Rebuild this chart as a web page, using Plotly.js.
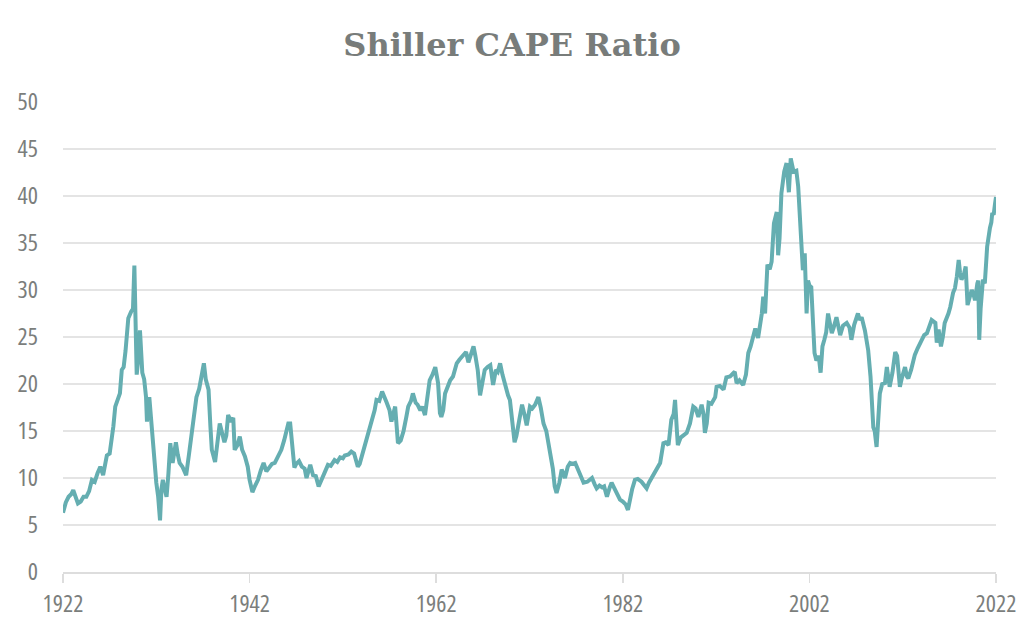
<!DOCTYPE html>
<html>
<head>
<meta charset="utf-8">
<script src="https://cdn.plot.ly/plotly-3.0.1.min.js"></script>
<style>
  html, body { margin: 0; padding: 0; background: #fff; }
  #chart { width: 1024px; height: 639px; }
  /* narrow tick labels like the original */
  #chart .xtick text, #chart .ytick text { font-stretch: 75% !important; }
</style>
</head>
<body>
<div id="chart"></div>
<script>
// Shiller CAPE (decimal years)
const years = [
  1922.0, 1922.3, 1922.6, 1922.9, 1923.1, 1923.4, 1923.6, 1923.9, 1924.2, 1924.5, 1924.8,
  1925.1, 1925.4, 1925.7, 1926.0, 1926.3, 1926.5, 1926.7, 1927.0, 1927.2, 1927.4, 1927.6,
  1927.9, 1928.1, 1928.3, 1928.5, 1928.7, 1928.85, 1929.0, 1929.3, 1929.5, 1929.65, 1929.75,
  1929.9, 1930.05, 1930.25, 1930.5, 1930.7, 1930.9, 1931.0, 1931.25, 1931.5, 1931.7, 1931.85,
  1932.0, 1932.2, 1932.4, 1932.55, 1932.7, 1932.9, 1933.1, 1933.3, 1933.5, 1933.75, 1933.9,
  1934.1, 1934.3, 1934.5, 1934.8, 1935.2, 1935.5, 1935.8, 1936.1, 1936.3, 1936.6, 1936.9,
  1937.1, 1937.3, 1937.6, 1937.8, 1937.95, 1938.3, 1938.5, 1938.8, 1939.0, 1939.3, 1939.5,
  1939.7, 1940.0, 1940.25, 1940.4, 1940.7, 1940.95, 1941.2, 1941.5, 1941.8, 1942.0, 1942.3,
  1942.6, 1942.9, 1943.2, 1943.5, 1943.8, 1944.1, 1944.4, 1944.7, 1945.0, 1945.4, 1945.7,
  1946.0, 1946.15, 1946.35, 1946.6, 1946.8, 1947.0, 1947.3, 1947.6, 1947.9, 1948.1, 1948.5,
  1948.8, 1949.1, 1949.4, 1949.7, 1950.0, 1950.4, 1950.7, 1951.1, 1951.4, 1951.7, 1952.0,
  1952.2, 1952.6, 1952.9, 1953.2, 1953.6, 1953.8, 1954.1, 1954.4, 1954.7, 1955.1, 1955.4,
  1955.6, 1955.9, 1956.2, 1956.4, 1956.7, 1957.0, 1957.2, 1957.6, 1957.9, 1958.2, 1958.5,
  1958.8, 1959.0, 1959.3, 1959.5, 1959.8, 1960.0, 1960.3, 1960.5, 1960.8, 1961.0, 1961.3,
  1961.6, 1961.9, 1962.2, 1962.4, 1962.55, 1962.75, 1962.95, 1963.2, 1963.5, 1963.8, 1964.2,
  1964.5, 1964.9, 1965.2, 1965.45, 1965.7, 1966.0, 1966.2, 1966.45, 1966.7, 1966.9, 1967.2,
  1967.5, 1967.8, 1968.1, 1968.4, 1968.6, 1968.85, 1969.1, 1969.4, 1969.7, 1969.9, 1970.1,
  1970.4, 1970.6, 1970.9, 1971.2, 1971.45, 1971.7, 1972.05, 1972.3, 1972.6, 1972.95, 1973.2,
  1973.5, 1973.8, 1974.2, 1974.5, 1974.7, 1974.9, 1975.2, 1975.45, 1975.8, 1976.1, 1976.35,
  1976.6, 1976.9, 1977.2, 1977.5, 1977.8, 1978.2, 1978.4, 1978.7, 1979.0, 1979.2, 1979.5,
  1979.8, 1980.0, 1980.3, 1980.6, 1980.8, 1981.1, 1981.4, 1981.7, 1982.0, 1982.3, 1982.55,
  1982.75, 1983.0, 1983.3, 1983.6, 1984.0, 1984.3, 1984.55, 1984.8, 1985.1, 1985.3, 1985.6,
  1986.0, 1986.35, 1986.6, 1986.9, 1987.2, 1987.45, 1987.6, 1987.8, 1987.9, 1988.2, 1988.5,
  1988.85, 1989.2, 1989.55, 1989.8, 1990.1, 1990.45, 1990.65, 1990.8, 1991.0, 1991.2, 1991.5,
  1991.9, 1992.05, 1992.4, 1992.8, 1993.1, 1993.5, 1994.0, 1994.2, 1994.5, 1994.9, 1995.2,
  1995.45, 1995.7, 1996.0, 1996.2, 1996.5, 1996.7, 1996.9, 1997.05, 1997.25, 1997.5, 1997.75,
  1997.95, 1998.2, 1998.5, 1998.65, 1998.8, 1999.0, 1999.3, 1999.55, 1999.8, 2000.0, 2000.3,
  2000.6, 2000.8, 2001.0, 2001.3, 2001.5, 2001.7, 2001.85, 2002.0, 2002.2, 2002.4, 2002.55,
  2002.75, 2003.0, 2003.2, 2003.4, 2003.6, 2003.8, 2004.0, 2004.4, 2004.6, 2004.9, 2005.3,
  2005.6, 2006.0, 2006.3, 2006.5, 2006.8, 2007.2, 2007.4, 2007.6, 2007.95, 2008.3, 2008.55,
  2008.85, 2009.0, 2009.2, 2009.35, 2009.55, 2009.8, 2010.1, 2010.3, 2010.45, 2010.6, 2010.9,
  2011.2, 2011.4, 2011.7, 2011.9, 2012.25, 2012.45, 2012.6, 2012.9, 2013.3, 2013.6, 2014.0,
  2014.3, 2014.6, 2014.9, 2015.1, 2015.5, 2015.65, 2015.85, 2016.1, 2016.3, 2016.5, 2016.9,
  2017.1, 2017.4, 2017.6, 2017.8, 2018.0, 2018.15, 2018.3, 2018.55, 2018.75, 2018.95, 2019.1,
  2019.4, 2019.6, 2019.75, 2020.0, 2020.1, 2020.2, 2020.35, 2020.6, 2020.8, 2020.95, 2021.05,
  2021.35, 2021.5, 2021.6, 2021.75, 2021.9, 2022.0
];
const cape = [
  6.3, 7.4, 8.0, 8.3, 8.7, 7.8, 7.3, 7.5, 8.0, 8.0, 8.6,
  9.8, 9.6, 10.5, 11.2, 10.3, 11.5, 12.4, 12.6, 14.0, 15.5, 17.6,
  18.5, 19.0, 21.5, 21.8, 23.5, 25.5, 27.0, 27.7, 28.0, 32.6, 27.5,
  21.0, 22.5, 25.7, 21.2, 20.5, 18.6, 16.0, 18.6, 15.3, 14.0, 11.6,
  9.5, 8.0, 5.5, 8.8, 9.8, 8.8, 8.0, 10.5, 13.7, 11.6, 12.5,
  13.8, 12.5, 11.6, 11.2, 10.3, 12.5, 15.1, 17.5, 18.6, 19.5, 21.2,
  22.2, 20.5, 19.4, 15.5, 13.0, 11.7, 13.5, 15.8, 15.0, 13.8, 14.5,
  16.7, 16.0, 16.4, 13.0, 13.5, 14.4, 13.0, 12.3, 11.2, 9.8, 8.5,
  9.2, 9.8, 10.8, 11.6, 10.7, 11.2, 11.5, 11.6, 12.3, 13.0, 14.0,
  15.5, 15.8, 15.8, 13.5, 11.1, 11.5, 11.8, 11.2, 11.0, 10.0, 11.4,
  10.3, 10.2, 9.1, 9.8, 10.4, 11.4, 11.3, 11.9, 11.7, 12.2, 12.1,
  12.4, 12.5, 12.8, 12.6, 11.2, 11.5, 12.5, 13.7, 14.5, 16.2, 17.2,
  18.3, 18.2, 19.2, 18.6, 18.0, 17.2, 16.0, 17.6, 13.7, 14.0, 15.0,
  16.5, 17.6, 18.2, 19.0, 18.0, 17.8, 17.2, 17.6, 16.7, 18.5, 20.4,
  21.0, 21.8, 20.1, 16.9, 16.5, 17.2, 19.0, 19.8, 20.4, 20.8, 22.2,
  22.6, 23.1, 23.4, 22.3, 23.2, 24.0, 23.0, 21.5, 18.8, 19.8, 21.5,
  21.8, 22.0, 19.9, 21.5, 21.3, 22.2, 21.0, 19.7, 18.8, 18.3, 16.5,
  13.8, 14.5, 16.0, 17.8, 16.8, 15.6, 17.6, 17.4, 17.8, 18.6, 17.5,
  15.8, 15.0, 12.6, 11.0, 9.1, 8.4, 9.5, 10.9, 10.0, 11.2, 11.6,
  11.5, 11.6, 10.8, 10.3, 9.5, 9.6, 9.8, 10.0, 9.3, 8.9, 9.2,
  9.0, 9.1, 8.0, 9.0, 9.5, 8.9, 8.4, 7.7, 7.5, 7.2, 6.6,
  7.8, 8.8, 9.8, 9.9, 9.6, 9.3, 8.9, 9.5, 10.0, 10.5, 10.8,
  11.6, 13.7, 13.8, 13.5, 16.2, 16.8, 18.3, 15.0, 13.5, 14.3, 14.5,
  14.8, 15.8, 17.6, 17.4, 16.5, 17.8, 16.8, 14.8, 15.8, 18.0, 17.9,
  18.6, 19.7, 19.8, 19.4, 20.7, 20.8, 21.3, 20.1, 20.4, 19.9, 21.0,
  23.3, 24.0, 25.0, 25.9, 24.9, 26.0, 27.5, 29.3, 27.5, 32.7, 32.2,
  33.0, 37.1, 38.3, 33.7, 35.5, 40.3, 42.6, 43.5, 40.4, 44.0, 42.6,
  42.7, 41.0, 36.7, 32.1, 33.9, 27.5, 31.0, 30.5, 30.3, 26.0, 23.3,
  22.5, 23.0, 21.2, 24.0, 24.7, 25.5, 27.5, 25.4, 26.0, 27.1, 25.2,
  26.2, 26.5, 26.0, 24.7, 26.3, 27.5, 26.8, 27.1, 25.7, 23.6, 20.8,
  15.4, 15.0, 13.3, 15.5, 19.0, 20.0, 20.1, 21.8, 20.3, 19.7, 21.2,
  23.4, 23.0, 19.7, 20.6, 21.8, 20.8, 20.6, 21.5, 23.1, 23.8, 24.7,
  25.2, 25.4, 26.2, 26.8, 26.5, 24.4, 25.8, 24.0, 25.0, 26.5, 27.5,
  28.2, 29.7, 30.2, 31.4, 33.2, 31.8, 31.1, 31.6, 32.5, 28.4, 29.0,
  30.0, 29.5, 28.9, 30.7, 31.0, 24.7, 28.0, 31.1, 30.7, 33.0, 34.6,
  36.6, 37.2, 38.2, 38.0, 39.2, 39.9
];
const xTicks = [1922, 1942, 1962, 1982, 2002, 2022];
const yTicks = [0, 5, 10, 15, 20, 25, 30, 35, 40, 45, 50];

const tickFont = {
  family: '"Open Sans", "DejaVu Sans", sans-serif',
  size: 24,
  color: '#7b7e7c'
};

const trace = {
  x: years,
  y: cape,
  type: 'scatter',
  mode: 'lines',
  line: { color: '#65aeb1', width: 4, shape: 'linear' },
  hoverinfo: 'x+y'
};

const layout = {
  width: 1024,
  height: 639,
  paper_bgcolor: '#ffffff',
  plot_bgcolor: '#ffffff',
  margin: { l: 63, r: 28, t: 102, b: 67 },
  showlegend: false,
  title: {
    text: '<b>Shiller CAPE Ratio</b>',
    x: 0.5,
    xanchor: 'center',
    y: 0.93,
    yanchor: 'middle',
    font: { family: '"DejaVu Serif", "Liberation Serif", serif', size: 32, color: '#787c7a' }
  },
  xaxis: {
    range: [1922, 2022],
    tickvals: xTicks,
    ticktext: xTicks.map(String),
    showgrid: false,
    zeroline: false,
    showline: true,
    linecolor: '#dddddd',
    linewidth: 2,
    ticks: 'outside',
    ticklen: 9,
    tickwidth: 1.5,
    tickcolor: '#dddddd',
    tickfont: tickFont
  },
  yaxis: {
    range: [0, 50],
    tickvals: yTicks,
    showgrid: true,
    gridcolor: '#e4e4e4',
    gridwidth: 1.5,
    zeroline: false,
    showline: false,
    ticks: '',
    ticklabelstandoff: 24,
    tickfont: tickFont
  }
};

Plotly.newPlot('chart', [trace], layout, { displayModeBar: false, staticPlot: true });
</script>
</body>
</html>
